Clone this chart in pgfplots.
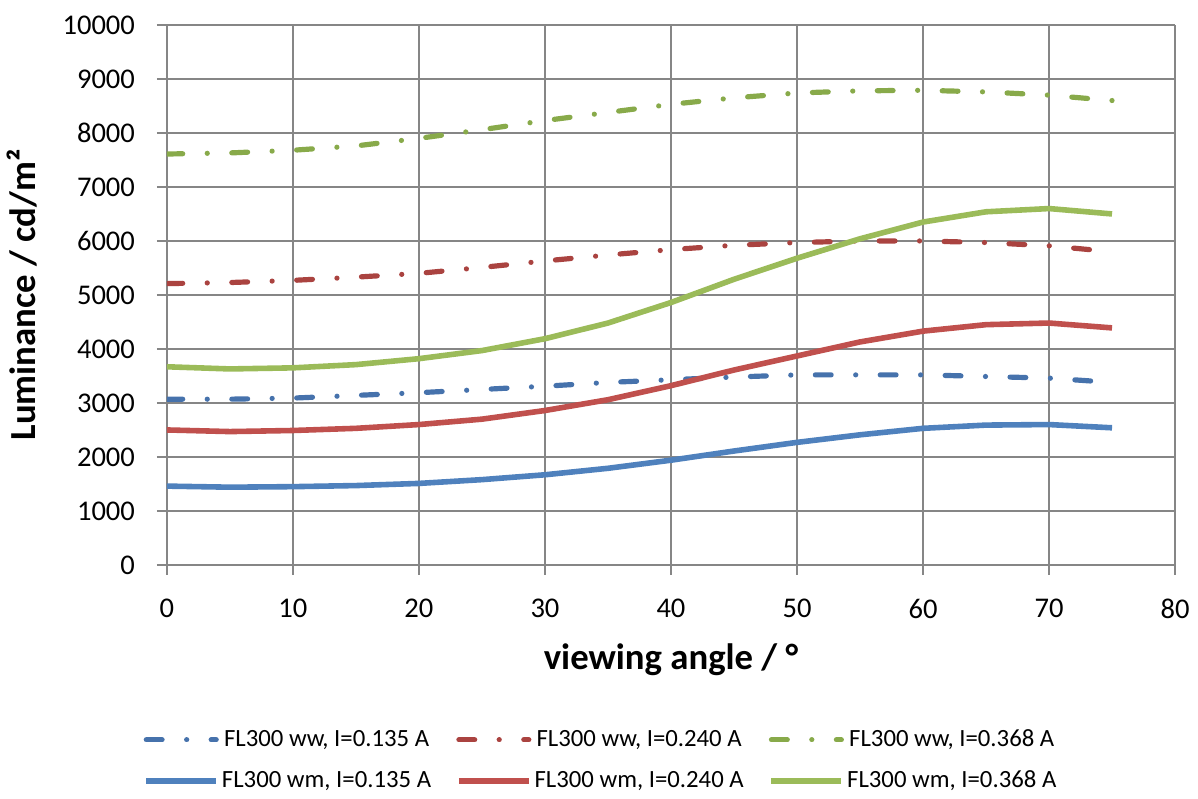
\documentclass[border=0pt]{standalone}
\usepackage{fontspec}
\setmainfont{Carlito}
\usepackage{pgfplots}
\pgfplotsset{compat=1.18}

\definecolor{bluew}{HTML}{4672AC}
\definecolor{redw}{HTML}{AA4340}
\definecolor{greenw}{HTML}{88AA4A}
\definecolor{bluem}{HTML}{4F81BD}
\definecolor{redm}{HTML}{C0504D}
\definecolor{greenm}{HTML}{9BBB59}
\definecolor{gridc}{HTML}{868686}

\pgfplotstableread{
a    wwA   wwB   wwC   wmA   wmB   wmC
0    3070  5210  7610  1460  2500  3670
5    3070  5230  7630  1440  2470  3630
10   3090  5270  7680  1450  2490  3650
15   3140  5330  7760  1470  2530  3710
20   3190  5400  7900  1510  2600  3820
25   3250  5510  8060  1580  2700  3970
30   3310  5630  8230  1670  2860  4190
35   3380  5740  8380  1790  3060  4480
40   3430  5840  8530  1940  3320  4860
45   3480  5920  8650  2110  3610  5290
50   3520  5970  8740  2270  3870  5680
55   3520  6000  8780  2410  4130  6040
60   3520  6000  8790  2530  4330  6350
65   3490  5970  8760  2590  4450  6540
70   3460  5910  8700  2600  4480  6600
75   3380  5800  8600  2540  4390  6500
}\lumdata

\tikzset{ww/.style={line width=2.6pt, line cap=round,
  dash pattern=on 7.9pt off 12.3pt on 0.01pt off 12.3pt}}

\begin{document}
\begin{tikzpicture}
\begin{axis}[
  width=505pt, height=270.5pt, scale only axis,
  xmin=0, xmax=80, ymin=0, ymax=10000,
  xtick={0,10,...,80}, ytick={0,1000,...,10000},
  scaled y ticks=false,
  grid=major,
  grid style={gridc, line width=0.9pt},
  axis line style={gridc, line width=0.9pt},
  tick style={gridc, line width=0.9pt},
  tick align=outside, major tick length=5pt,
  xtick pos=bottom, ytick pos=left,
  axis x line*=bottom, axis y line*=left,
  /pgf/number format/assume math mode=true,
  /pgf/number format/1000 sep={},
  ticklabel style={font=\fontsize{14.3}{16}\selectfont},
  yticklabel style={xshift=-7.5pt},
  xticklabel style={yshift=-8.5pt},
  xlabel={viewing angle / °},
  ylabel={Luminance / cd/m²},
  label style={font=\bfseries\fontsize{18.4}{21}\selectfont},
  xlabel style={yshift=-5.5pt},
  ylabel style={yshift=6pt},
  legend columns=3,
  legend style={at={(0.431,-0.29)}, anchor=north, draw=none,
    font=\fontsize{12.4}{14}\selectfont,
    nodes={inner xsep=1.5pt},
    /tikz/every even column/.append style={column sep=11pt},
    row sep=6.5pt},
  legend image code/.code={\draw[#1] (0pt,0pt) -- (35pt,0pt);},
  no markers,
]
\addplot[bluew, ww] table[x=a, y=wwA] {\lumdata};
\addlegendentry{FL300 ww, I=0.135 A}
\addplot[redw, ww] table[x=a, y=wwB] {\lumdata};
\addlegendentry{FL300 ww, I=0.240 A}
\addplot[greenw, ww] table[x=a, y=wwC] {\lumdata};
\addlegendentry{FL300 ww, I=0.368 A}
\addplot[bluem, line width=2.8pt] table[x=a, y=wmA] {\lumdata};
\addlegendentry{FL300 wm, I=0.135 A}
\addplot[redm, line width=2.8pt] table[x=a, y=wmB] {\lumdata};
\addlegendentry{FL300 wm, I=0.240 A}
\addplot[greenm, line width=2.8pt] table[x=a, y=wmC] {\lumdata};
\addlegendentry{FL300 wm, I=0.368 A}
\end{axis}
\path ([xshift=11.5pt]current axis.east) ([yshift=12.5pt]current axis.north);
\end{tikzpicture}
\end{document}
